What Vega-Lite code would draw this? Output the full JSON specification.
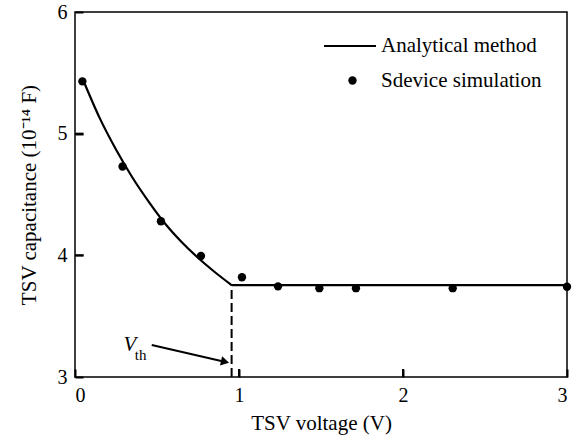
{
  "$schema": "https://vega.github.io/schema/vega-lite/v6.json",
  "width": 492,
  "height": 365,
  "autosize": "none",
  "padding": {"left": 75, "top": 12, "right": 13, "bottom": 68},
  "background": "white",
  "config": {
    "font": "Liberation Serif",
    "view": {"stroke": "black", "strokeWidth": 1.5},
    "legend": {
      "labelFont": "Liberation Serif",
      "labelFontSize": 21,
      "labelColor": "black",
      "labelLimit": 400,
      "padding": 0
    }
  },
  "datasets": {
    "curve": [
      {"seg": "a", "v": 0.05, "c": 5.44},
      {"seg": "a", "v": 0.15, "c": 5.13},
      {"seg": "a", "v": 0.25, "c": 4.87},
      {"seg": "a", "v": 0.35, "c": 4.64},
      {"seg": "a", "v": 0.45, "c": 4.44},
      {"seg": "a", "v": 0.55, "c": 4.26},
      {"seg": "a", "v": 0.65, "c": 4.11},
      {"seg": "a", "v": 0.75, "c": 3.98},
      {"seg": "a", "v": 0.85, "c": 3.865},
      {"seg": "a", "v": 0.955, "c": 3.755},
      {"seg": "b", "v": 0.955, "c": 3.755},
      {"seg": "b", "v": 3.0, "c": 3.755}
    ],
    "sim": [
      {"v": 0.045, "c": 5.43},
      {"v": 0.29, "c": 4.73},
      {"v": 0.524, "c": 4.28},
      {"v": 0.768, "c": 3.995},
      {"v": 1.018, "c": 3.82},
      {"v": 1.238, "c": 3.745},
      {"v": 1.49, "c": 3.73},
      {"v": 1.713, "c": 3.73},
      {"v": 2.303, "c": 3.73},
      {"v": 3.0, "c": 3.742}
    ],
    "vth": [{"v": 0.955, "c0": 3.0, "c1": 3.755}],
    "xticks": [{"v": 1, "c0": 3.0, "c1": 3.066}, {"v": 2, "c0": 3.0, "c1": 3.066}],
    "yticks": [{"c": 4, "v0": 0, "v1": 0.052}, {"c": 5, "v0": 0, "v1": 0.052}],
    "arrow": [{"x1": 0.468, "y1": 3.263, "x2": 0.905, "y2": 3.128}],
    "arrowhead": [{"x": 0.915, "y": 3.125}],
    "labelV": [{"x": 0.335, "y": 3.263, "t": "V"}],
    "labelTh": [{"x": 0.4, "y": 3.18, "t": "th"}]
  },
  "layer": [
    {
      "data": {"name": "vth"},
      "mark": {"type": "rule", "color": "black", "strokeWidth": 2, "strokeDash": [9, 4]},
      "encoding": {
        "x": {"field": "v", "type": "quantitative", "scale": {"domain": [0, 3]},
              "axis": {"values": [0, 1, 2, 3], "format": "d", "domain": false, "grid": false, "ticks": true, "tickSize": 8, "tickColor": "black", "tickWidth": 2, "offset": -8, "zindex": 2,
                       "labelPadding": 8, "labelFont": "Liberation Serif", "labelFontSize": 20, "labelColor": "black",
                       "title": "TSV voltage (V)", "titleFont": "Liberation Serif", "titleFontSize": 21, "titleFontWeight": "normal", "titleColor": "black", "titlePadding": 7}},
        "y": {"field": "c0", "type": "quantitative", "scale": {"domain": [3, 6]},
              "axis": {"values": [3, 4, 5, 6], "format": "d", "domain": false, "grid": false, "ticks": true, "tickSize": 8, "tickColor": "black", "tickWidth": 2, "offset": -8, "zindex": 2,
                       "labelPadding": 8, "labelFont": "Liberation Serif", "labelFontSize": 20, "labelColor": "black",
                       "title": "TSV capacitance (10⁻¹⁴ F)", "titleFont": "Liberation Serif", "titleFontSize": 21, "titleFontWeight": "normal", "titleColor": "black", "titlePadding": 18}},
        "y2": {"field": "c1"}
      }
    },
    {
      "data": {"name": "xticks"},
      "mark": {"type": "rule", "color": "black", "strokeWidth": 2},
      "encoding": {
        "x": {"field": "v", "type": "quantitative"},
        "y": {"field": "c0", "type": "quantitative"},
        "y2": {"field": "c1"}
      }
    },
    {
      "data": {"name": "yticks"},
      "mark": {"type": "rule", "color": "black", "strokeWidth": 2},
      "encoding": {
        "y": {"field": "c", "type": "quantitative"},
        "x": {"field": "v0", "type": "quantitative"},
        "x2": {"field": "v1"}
      }
    },
    {
      "data": {"name": "curve"},
      "mark": {"type": "line", "color": "black", "strokeWidth": 2.2, "interpolate": "monotone"},
      "encoding": {
        "x": {"field": "v", "type": "quantitative"},
        "y": {"field": "c", "type": "quantitative"},
        "detail": {"field": "seg", "type": "nominal"},
        "color": {
          "datum": "Analytical method",
          "scale": {"domain": ["Analytical method"], "range": ["black"]},
          "legend": {
            "title": null, "orient": "none", "legendX": 248, "legendY": 7,
            "symbolType": "stroke", "symbolSize": 2704, "symbolStrokeWidth": 2,
            "symbolStrokeColor": "black", "labelOffset": 4,
            "labelFont": "Liberation Serif", "labelFontSize": 21
          }
        }
      }
    },
    {
      "data": {"name": "sim"},
      "mark": {"type": "point", "filled": true, "color": "black", "opacity": 1, "size": 70},
      "encoding": {
        "x": {"field": "v", "type": "quantitative"},
        "y": {"field": "c", "type": "quantitative"},
        "shape": {
          "datum": "Sdevice simulation",
          "scale": {"domain": ["Sdevice simulation"], "range": ["circle"]},
          "legend": {
            "title": null, "orient": "none", "legendX": 267, "legendY": 58,
            "symbolSize": 70, "symbolFillColor": "black", "symbolStrokeColor": "black",
            "symbolOpacity": 1, "labelOffset": 18,
            "labelFont": "Liberation Serif", "labelFontSize": 21
          }
        }
      }
    },
    {
      "data": {"name": "arrow"},
      "mark": {"type": "rule", "color": "black", "strokeWidth": 2},
      "encoding": {
        "x": {"field": "x1", "type": "quantitative"},
        "y": {"field": "y1", "type": "quantitative"},
        "x2": {"field": "x2"},
        "y2": {"field": "y2"}
      }
    },
    {
      "data": {"name": "arrowhead"},
      "mark": {"type": "point", "shape": "triangle-right", "filled": true, "color": "black", "opacity": 1, "size": 90, "angle": 13},
      "encoding": {
        "x": {"field": "x", "type": "quantitative"},
        "y": {"field": "y", "type": "quantitative"}
      }
    },
    {
      "data": {"name": "labelV"},
      "mark": {"type": "text", "font": "Liberation Serif", "fontStyle": "italic", "fontSize": 21, "color": "black", "align": "center", "baseline": "middle"},
      "encoding": {
        "x": {"field": "x", "type": "quantitative"},
        "y": {"field": "y", "type": "quantitative"},
        "text": {"field": "t"}
      }
    },
    {
      "data": {"name": "labelTh"},
      "mark": {"type": "text", "font": "Liberation Serif", "fontSize": 15, "color": "black", "align": "center", "baseline": "middle"},
      "encoding": {
        "x": {"field": "x", "type": "quantitative"},
        "y": {"field": "y", "type": "quantitative"},
        "text": {"field": "t"}
      }
    }
  ]
}
